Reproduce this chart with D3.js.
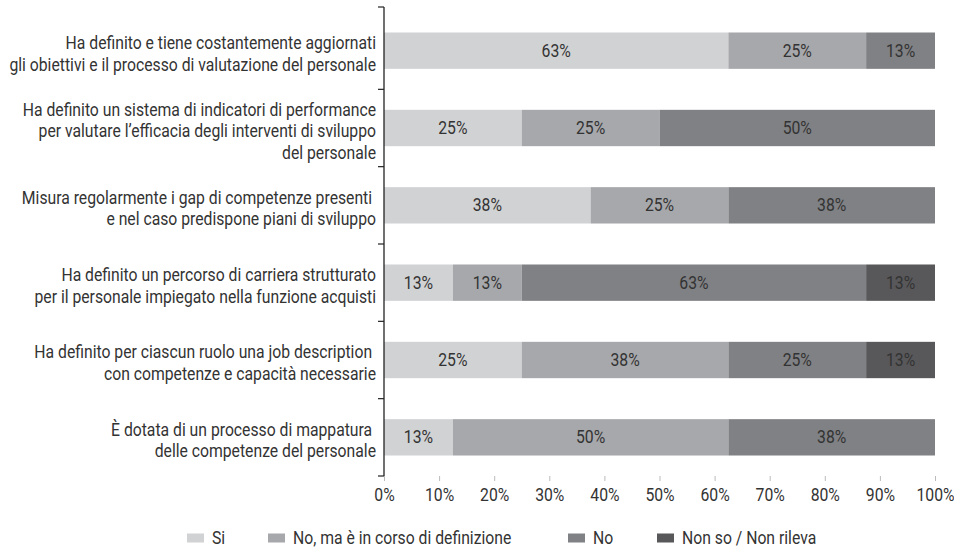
<!DOCTYPE html>
<html>
<head>
<meta charset="utf-8">
<script src="https://cdn.jsdelivr.net/npm/d3@7"></script>
<style>
  body { margin: 0; background: #fff; }
  svg text { font-family: "Liberation Sans Narrow", "Arial Narrow", "Roboto", sans-serif; fill: #333; }
</style>
</head>
<body>
<svg id="chart" width="954" height="550"></svg>
<script>
// categories, top to bottom (label lines)
let categories = [
  ['Ha definito e tiene costantemente aggiornati', 'gli obiettivi e il processo di valutazione del personale'],
  ['Ha definito un sistema di indicatori di performance', 'per valutare l\u2019efficacia degli interventi di sviluppo', 'del personale'],
  ['Misura regolarmente i gap di competenze presenti ', 'e nel caso predispone piani di sviluppo'],
  ['Ha definito un percorso di carriera strutturato', 'per il personale impiegato nella funzione acquisti'],
  ['Ha definito per ciascun ruolo una job description ', 'con competenze e capacit\u00e0 necessarie'],
  ['\u00c8 dotata di un processo di mappatura ', 'delle competenze del personale']
];

let seriesNames = ['Si', 'No, ma \u00e8 in corso di definizione', 'No', 'Non so / Non rileva'];
let seriesColors = ['#d1d2d4', '#a7a8ab', '#808184', '#58585a'];

// percentages per category, one value per series
let si       = [62.5, 25, 37.5, 12.5, 25, 12.5];
let inCorso  = [25, 25, 25, 12.5, 37.5, 50];
let no       = [12.5, 50, 37.5, 62.5, 25, 37.5];
let nonSo    = [0, 0, 0, 12.5, 12.5, 0];

let xTicks = [0, 10, 20, 30, 40, 50, 60, 70, 80, 90, 100];

let svg = d3.select('#chart');
let x0 = 384, x1 = 935;
let yTop = 12, yBottom = 476;
let fs = 17.5, squeeze = 0.9; // no narrow font installed, so squeeze a normal one

let rows = categories.map((c, i) => ({
  idx: i, lines: c,
  vals: [si[i], inCorso[i], no[i], nonSo[i]]
}));

let sx = d3.scaleLinear().domain([0, 100]).range([x0, x1]);
let sy = d3.scaleBand()
  .domain(d3.range(categories.length))
  .range([yTop, yBottom])
  .paddingInner(0.53)
  .paddingOuter(0.265);

let step = sy.step();
let bandStart = i => yTop + step * i;

// stacked segments
let stacked = d3.stack().keys([0, 1, 2, 3]).value((d, k) => d.vals[k])(rows);

stacked.forEach((layer, k) => {
  let g = svg.append('g');
  g.selectAll('rect')
  .data(layer)
  .enter()
  .append('rect')
  .attr('x', d => sx(d[0]))
  .attr('y', (d, i) => sy(i))
  .attr('width', d => sx(d[1]) - sx(d[0]))
  .attr('height', sy.bandwidth())
  .attr('fill', seriesColors[k]);

  g.selectAll('text')
  .data(layer.filter(d => d[1] - d[0] > 0))
  .enter()
  .append('text')
  .attr('transform', d => `translate(${(sx(d[0]) + sx(d[1])) / 2},${sy(d.data.idx) + sy.bandwidth() / 2}) scale(${squeeze},1)`)
  .attr('dy', '0.35em')
  .attr('text-anchor', 'middle')
  .attr('font-size', fs)
  .text(d => Math.round(d[1] - d[0] + 0.01) + '%');
});

// y axis line and boundary ticks
svg.append('line')
  .attr('x1', x0).attr('x2', x0)
  .attr('y1', 7).attr('y2', yBottom)
  .attr('stroke', '#222').attr('stroke-width', 1.3);

let boundaries = d3.range(1, categories.length).map(bandStart).concat([7, yBottom]);
svg.selectAll('.ytick')
  .data(boundaries)
  .enter()
  .append('line')
  .attr('class', 'ytick')
  .attr('x1', x0 - 6).attr('x2', x0)
  .attr('y1', d => d).attr('y2', d => d)
  .attr('stroke', '#222').attr('stroke-width', 1.2);

// category labels
rows.forEach(r => {
  let cy = sy(r.idx) + sy.bandwidth() / 2 + 3;
  let n = r.lines.length;
  let t = svg.append('text')
    .attr('transform', `translate(376,${cy}) scale(${squeeze},1)`)
    .attr('text-anchor', 'end')
    .attr('font-size', fs);
  r.lines.forEach((line, j) => {
    t.append('tspan')
      .attr('x', 0)
      .attr('y', (j - (n - 1) / 2) * 21.5)
      .attr('dy', '0.35em')
      .text(line);
  });
});

// x axis
let xAxis = d3.axisBottom(sx)
  .tickValues(xTicks)
  .tickSize(5)
  .tickFormat(d => d + '%');

let gx = svg.append('g')
  .attr('transform', `translate(0,${yBottom})`)
  .call(xAxis);
gx.attr('font-family', null).attr('font-size', null);
gx.select('.domain').remove();
gx.selectAll('.tick line').attr('stroke', '#bbb');
gx.selectAll('.tick text')
  .attr('font-size', fs)
  .attr('y', null)
  .attr('dy', null)
  .attr('transform', `translate(0,19) scale(${squeeze},1)`)
  .attr('dy', '0.35em');

// legend
let legendX = [187, 268, 568, 657];
let legend = svg.selectAll('.legend')
  .data(seriesNames)
  .enter()
  .append('g')
  .attr('class', 'legend')
  .attr('transform', (d, i) => `translate(${legendX[i]},538)`);

legend.append('rect')
  .attr('x', 0).attr('y', -4.5)
  .attr('width', 17).attr('height', 9)
  .attr('fill', (d, i) => seriesColors[i]);

legend.append('text')
  .attr('transform', `translate(25,0) scale(${squeeze},1)`)
  .attr('dy', '0.35em')
  .attr('font-size', fs)
  .text(d => d);
</script>
</body>
</html>
